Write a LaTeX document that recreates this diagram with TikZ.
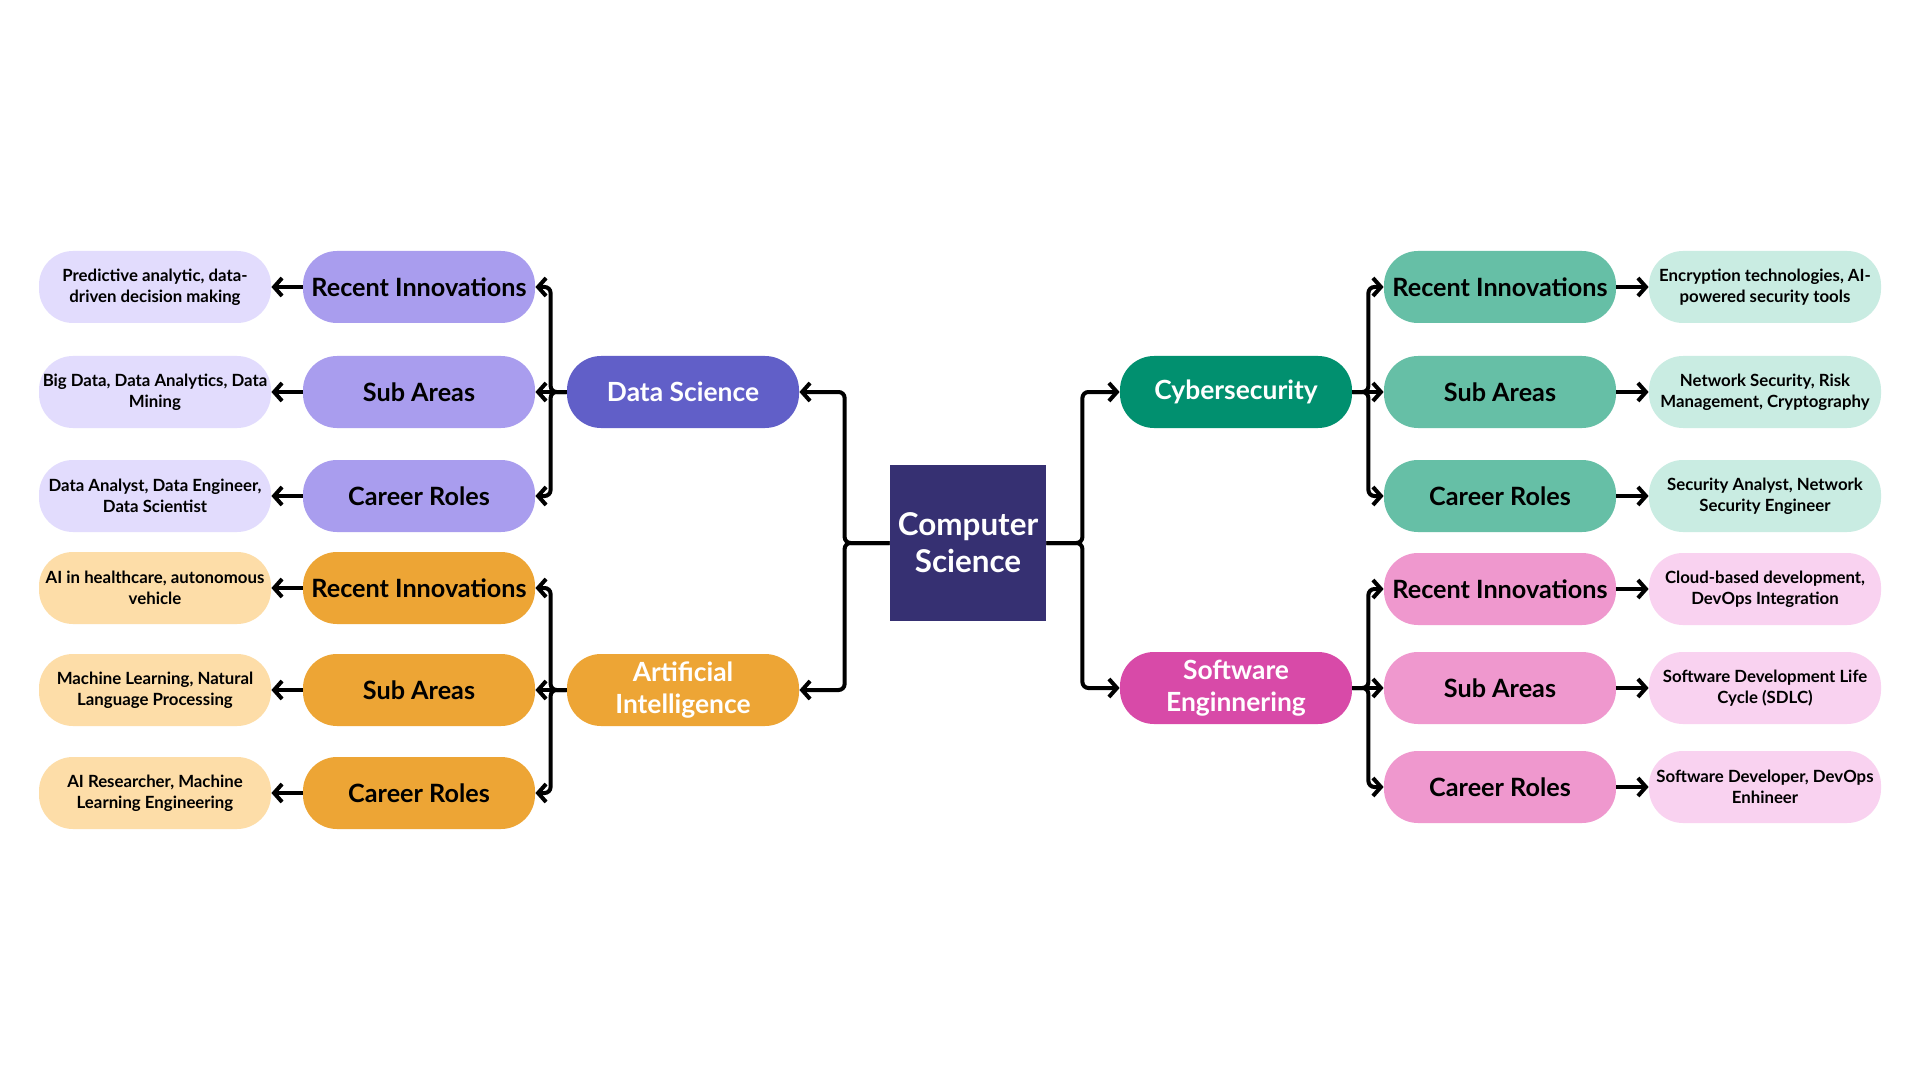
\documentclass[tikz,border=0pt]{standalone}
\usepackage{fontspec}
\setmainfont{Lato}
\usepackage{tikz}
\usetikzlibrary{arrows.meta}
\definecolor{csblue}{HTML}{363072}
\definecolor{dsdark}{HTML}{615FC8}
\definecolor{dsmid}{HTML}{A99DEE}
\definecolor{dslight}{HTML}{E2DCFD}
\definecolor{aidark}{HTML}{EDA535}
\definecolor{ailight}{HTML}{FDDDA8}
\definecolor{cydark}{HTML}{01906F}
\definecolor{cymid}{HTML}{66BFA6}
\definecolor{cylight}{HTML}{C9ECE2}
\definecolor{swdark}{HTML}{D84AA8}
\definecolor{swmid}{HTML}{EF98CE}
\definecolor{swlight}{HTML}{F9D2F0}

\begin{document}
\begin{tikzpicture}[x=0.5pt, y=-0.5pt,
  pill/.style={rounded corners=17pt, minimum width=116pt, minimum height=36pt, align=center, inner sep=1pt},
  topic/.style={pill, text=white, font=\bfseries\fontsize{13.2}{16}\selectfont},
  branch/.style={pill, font=\bfseries\fontsize{12.6}{15}\selectfont},
  leaf/.style={pill, font=\bfseries\fontsize{8.4}{10.5}\selectfont},
  link/.style={line width=2pt, rounded corners=3pt, -{Straight Barb[length=4pt, width=9pt]}}]
  \fill [white] (0, 0) rectangle (1920, 1080);
  \node [fill=csblue, text=white, minimum size=78pt, align=center, font=\bfseries\fontsize{15.7}{18.5}\selectfont] (cs) at (968, 543) {Computer\\Science};
  \node [topic, fill=dsdark] (ds) at (683, 392) {Data Science};
  \node [topic, fill=aidark] (ai) at (683, 690) {Artificial\\Intelligence};
  \node [topic, fill=cydark] (cy) at (1236, 392) {Cybersecurity};
  \node [topic, fill=swdark] (sw) at (1236, 688) {Software\\Enginnering};
  \node [branch, fill=dsmid] (dsi) at (419, 287) {Recent Innovations};
  \node [branch, fill=dsmid] (dss) at (419, 392) {Sub Areas};
  \node [branch, fill=dsmid] (dsr) at (419, 496) {Career Roles};
  \node [branch, fill=aidark] (aii) at (419, 588) {Recent Innovations};
  \node [branch, fill=aidark] (ais) at (419, 690) {Sub Areas};
  \node [branch, fill=aidark] (air) at (419, 793) {Career Roles};
  \node [branch, fill=cymid] (cyi) at (1500, 287) {Recent Innovations};
  \node [branch, fill=cymid] (cys) at (1500, 392) {Sub Areas};
  \node [branch, fill=cymid] (cyr) at (1500, 496) {Career Roles};
  \node [branch, fill=swmid] (swi) at (1500, 589) {Recent Innovations};
  \node [branch, fill=swmid] (sws) at (1500, 688) {Sub Areas};
  \node [branch, fill=swmid] (swr) at (1500, 787) {Career Roles};
  \node [leaf, fill=dslight] (dsit) at (155, 287) {Predictive analytic, data-\\driven decision making};
  \node [leaf, fill=dslight] (dsst) at (155, 392) {Big Data, Data Analytics, Data\\Mining};
  \node [leaf, fill=dslight] (dsrt) at (155, 496) {Data Analyst, Data Engineer,\\Data Scientist};
  \node [leaf, fill=ailight] (aiit) at (155, 588) {AI in healthcare, autonomous\\vehicle};
  \node [leaf, fill=ailight] (aist) at (155, 690) {Machine Learning, Natural\\Language Processing};
  \node [leaf, fill=ailight] (airt) at (155, 793) {AI Researcher, Machine\\Learning Engineering};
  \node [leaf, fill=cylight] (cyit) at (1765, 287) {Encryption technologies, AI-\\powered security tools};
  \node [leaf, fill=cylight] (cyst) at (1765, 392) {Network Security, Risk\\Management, Cryptography};
  \node [leaf, fill=cylight] (cyrt) at (1765, 496) {Security Analyst, Network\\Security Engineer};
  \node [leaf, fill=swlight] (swit) at (1765, 589) {Cloud-based development,\\DevOps Integration};
  \node [leaf, fill=swlight] (swst) at (1765, 688) {Software Development Life\\Cycle (SDLC)};
  \node [leaf, fill=swlight] (swrt) at (1765, 787) {Software Developer, DevOps\\Enhineer};
  \draw [link] (cs.west) -- ++(-45, 0) |- (ds.east);
  \draw [link] (cs.west) -- ++(-45, 0) |- (ai.east);
  \draw [link] (cs.east) -- ++(36, 0) |- (cy.west);
  \draw [link] (cs.east) -- ++(36, 0) |- (sw.west);
  \draw [link] (ds.west) -- ++(-16, 0) |- (dsi.east);
  \draw [link] (ds.west) -- (dss.east);
  \draw [link] (ds.west) -- ++(-16, 0) |- (dsr.east);
  \draw [link] (ai.west) -- ++(-16, 0) |- (aii.east);
  \draw [link] (ai.west) -- (ais.east);
  \draw [link] (ai.west) -- ++(-16, 0) |- (air.east);
  \draw [link] (cy.east) -- ++(16, 0) |- (cyi.west);
  \draw [link] (cy.east) -- (cys.west);
  \draw [link] (cy.east) -- ++(16, 0) |- (cyr.west);
  \draw [link] (sw.east) -- ++(16, 0) |- (swi.west);
  \draw [link] (sw.east) -- (sws.west);
  \draw [link] (sw.east) -- ++(16, 0) |- (swr.west);
  \draw [link] (dsi.west) -- (dsit.east);
  \draw [link] (dss.west) -- (dsst.east);
  \draw [link] (dsr.west) -- (dsrt.east);
  \draw [link] (aii.west) -- (aiit.east);
  \draw [link] (ais.west) -- (aist.east);
  \draw [link] (air.west) -- (airt.east);
  \draw [link] (cyi.east) -- (cyit.west);
  \draw [link] (cys.east) -- (cyst.west);
  \draw [link] (cyr.east) -- (cyrt.west);
  \draw [link] (swi.east) -- (swit.west);
  \draw [link] (sws.east) -- (swst.west);
  \draw [link] (swr.east) -- (swrt.west);
\end{tikzpicture}
\end{document}
